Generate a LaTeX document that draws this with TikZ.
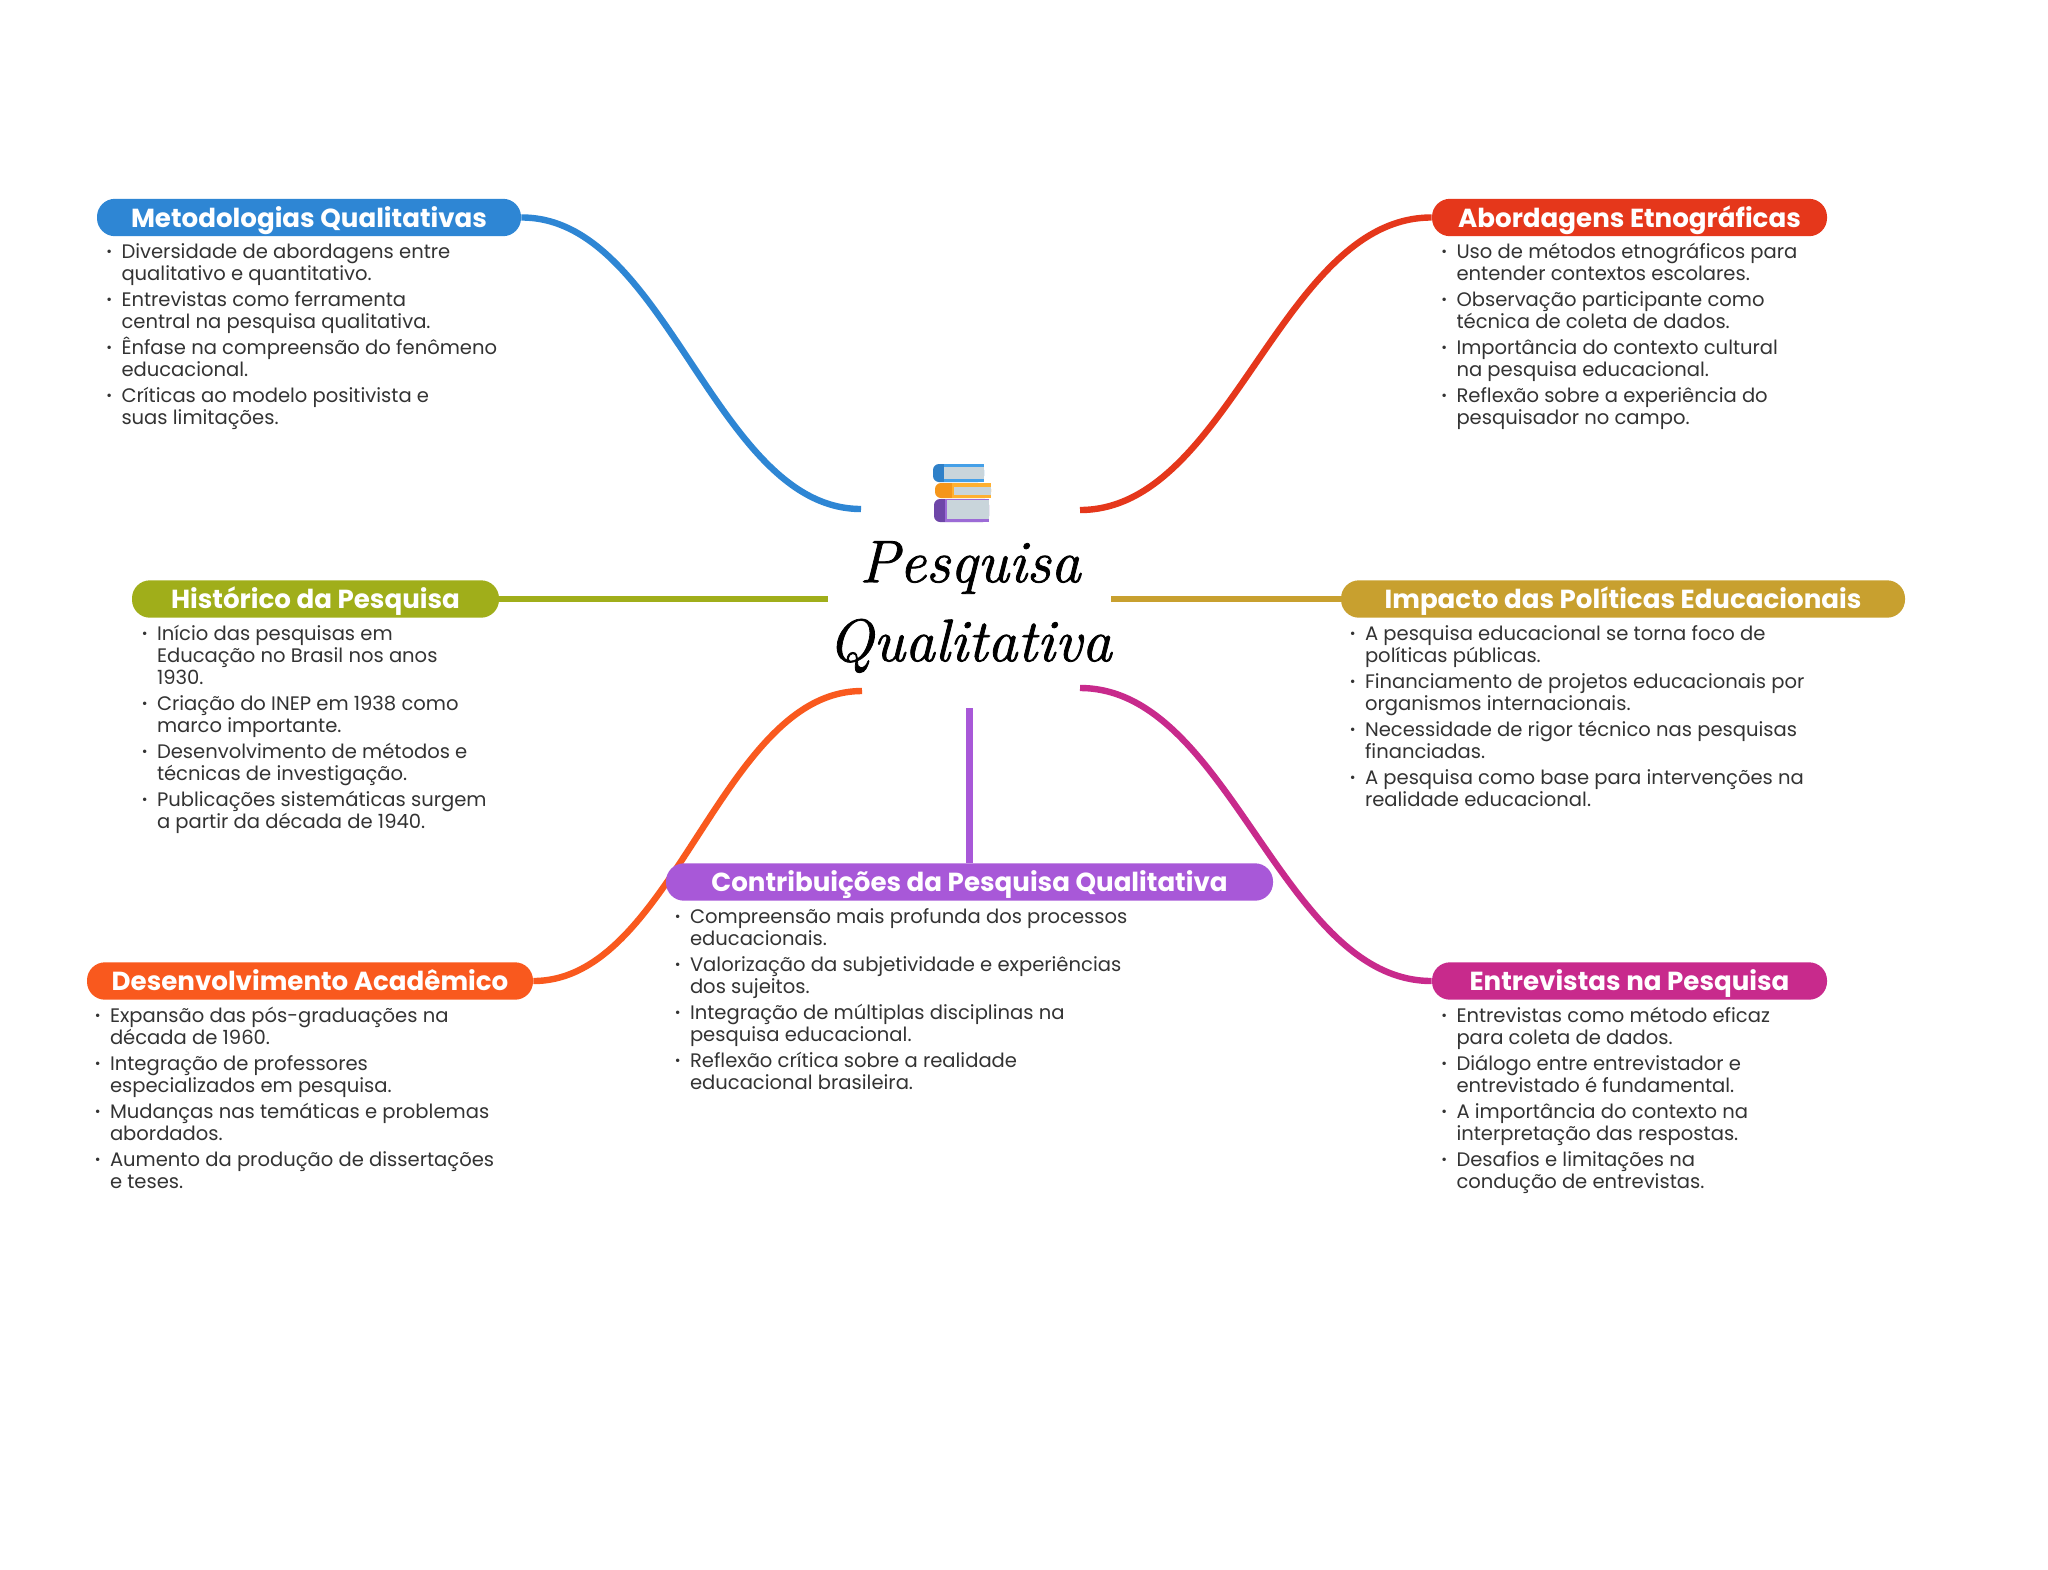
\documentclass[tikz,border=0pt]{standalone}
\usepackage{fontspec}
\setmainfont{Poppins}
\newfontfamily\titlefont[ItalicFeatures={FakeBold=1.3}]{Latin Modern Roman}
\definecolor{cblue}{HTML}{2E86D4}
\definecolor{cred}{HTML}{E5371B}
\definecolor{colive}{HTML}{A0AE1A}
\definecolor{cgold}{HTML}{C8A02F}
\definecolor{corange}{HTML}{F9591E}
\definecolor{cpurple}{HTML}{A858D8}
\definecolor{cmagenta}{HTML}{C82A8C}
\definecolor{ctext}{HTML}{333333}
\definecolor{cpage}{HTML}{C9D5DB}
\definecolor{bkblue}{HTML}{2F80C8}
\definecolor{bkblueb}{HTML}{45A0E8}
\definecolor{bkor}{HTML}{F5961A}
\definecolor{bkorb}{HTML}{FFB030}
\definecolor{bkpu}{HTML}{6E46A8}
\definecolor{bkpub}{HTML}{9C6BD6}
\newcommand\rbul{\hbox to 8.5pt{\hskip 0.9pt\raisebox{0.9pt}{\fontsize{7}{7}\selectfont\textbullet}\hss}}
\newcommand\rbox[1]{\fontsize{9.78}{11}\selectfont\color{ctext}%
  \vbox{\baselineskip=11pt\lineskiplimit=-10pt\parskip=0pt #1}}
\newcommand\rl[1]{\hbox{\hbox to 8.5pt{\hss}#1}}
\newcommand\ri[1]{\vskip 2pt\hbox{\rbul #1}}
\newcommand\rf[1]{\hbox{\vrule height 10pt width 0pt\rbul #1}}
\tikzset{
  x=0.5pt,y=-0.5pt,
  pill/.style={rounded corners=9pt,minimum height=18.7pt,inner sep=0pt,text=white,
    text height=10.3pt,text depth=0.8pt,font=\fontsize{13.06}{14}\selectfont\bfseries},
  body/.style={anchor=north west,inner sep=0pt,outer sep=0pt},
  conn/.style={line width=3.2pt,line cap=butt},
  titletext/.style={align=center,inner sep=0pt,font=\titlefont\itshape\fontsize{30}{39.5}\selectfont}
}
\begin{document}
\begin{tikzpicture}
\useasboundingbox (0,0) rectangle (2048,1569);
\fill[white] (0,0) rectangle (2048,1569);

% centre title
\node[titletext] (title) at (970,607) {Pesquisa\\Qualitativa};

% books icon
\fill[bkblue,rounded corners=3pt] (933,464) rectangle (984,482);
\fill[bkblueb] (944,464) rectangle (984,482);
\fill[cpage] (944,467) rectangle (984,479);
\fill[bkor,rounded corners=3pt] (935,483) rectangle (991,498);
\fill[bkorb] (952,483) rectangle (991,498);
\fill[cpage] (954,487) rectangle (991,495);
\fill[bkpu,rounded corners=3pt] (934,499) rectangle (989,522);
\fill[bkpub] (945,499) rectangle (989,522);
\fill[cpage] (947,500) rectangle (989,519);

% pills
\node[pill,fill=cblue,minimum width=212pt] (m) at (309,217.5) {Metodologias Qualitativas};
\node[pill,fill=cred,minimum width=197.5pt] (a) at (1629.5,217.5) {Abordagens Etnográficas};
\node[pill,fill=colive,minimum width=183.5pt] (h) at (315.5,599) {Histórico da Pesquisa};
\node[pill,fill=cgold,minimum width=282pt] (i) at (1623,599) {Impacto das Políticas Educacionais};
\node[pill,fill=corange,minimum width=223pt] (d) at (310,981) {Desenvolvimento Acadêmico};
\node[pill,fill=cmagenta,minimum width=197.5pt] (e) at (1629.5,981) {Entrevistas na Pesquisa};

% free ends
\coordinate (em) at (861,509);
\coordinate (ea) at (1080,510);
\coordinate (eh) at (828,599);
\coordinate (ei) at (1111,599);
\coordinate (ec) at (969.5,708);
\coordinate (ed) at (862,691);
\coordinate (ee) at (1080,688);

% connectors
\draw[conn,cblue] (m.east) .. controls (667,217) and (715,509) .. (em);
\draw[conn,cred] (a.west) .. controls (1281,217) and (1230,510) .. (ea);
\draw[conn,colive] (h.east) -- (eh);
\draw[conn,cgold] (i.west) -- (ei);
\draw[conn,corange] (d.east) .. controls (674,981) and (721,691) .. (ed);
\draw[conn,cmagenta] (e.west) .. controls (1281,981) and (1230,688) .. (ee);

% drawn after the orange connector, which passes behind it
\node[pill,fill=cpurple,minimum width=303.5pt] (c) at (969.5,882) {Contribuições da Pesquisa Qualitativa};
\draw[conn,cpurple] (c.north) -- (ec);

% bodies
\node[body] (mb) at (104.5,238.5) {\rbox{
\rf{Diversidade de abordagens entre}\rl{qualitativo e quantitativo.}
\ri{Entrevistas como ferramenta}\rl{central na pesquisa qualitativa.}
\ri{Ênfase na compreensão do fenômeno}\rl{educacional.}
\ri{Críticas ao modelo positivista e}\rl{suas limitações.}}};
\node[body] (ab) at (1439.5,238.5) {\rbox{
\rf{Uso de métodos etnográficos para}\rl{entender contextos escolares.}
\ri{Observação participante como}\rl{técnica de coleta de dados.}
\ri{Importância do contexto cultural}\rl{na pesquisa educacional.}
\ri{Reflexão sobre a experiência do}\rl{pesquisador no campo.}}};
\node[body] (hb) at (140,620.5) {\rbox{
\rf{Início das pesquisas em}\rl{Educação no Brasil nos anos}\rl{1930.}
\ri{Criação do INEP em 1938 como}\rl{marco importante.}
\ri{Desenvolvimento de métodos e}\rl{técnicas de investigação.}
\ri{Publicações sistemáticas surgem}\rl{a partir da década de 1940.}}};
\node[body] (ib) at (1348,620.5) {\rbox{
\rf{A pesquisa educacional se torna foco de}\rl{políticas públicas.}
\ri{Financiamento de projetos educacionais por}\rl{organismos internacionais.}
\ri{Necessidade de rigor técnico nas pesquisas}\rl{financiadas.}
\ri{A pesquisa como base para intervenções na}\rl{realidade educacional.}}};
\node[body] (cb) at (673,903.5) {\rbox{
\rf{Compreensão mais profunda dos processos}\rl{educacionais.}
\ri{Valorização da subjetividade e experiências}\rl{dos sujeitos.}
\ri{Integração de múltiplas disciplinas na}\rl{pesquisa educacional.}
\ri{Reflexão crítica sobre a realidade}\rl{educacional brasileira.}}};
\node[body] (db) at (93,1002.5) {\rbox{
\rf{Expansão das pós-graduações na}\rl{década de 1960.}
\ri{Integração de professores}\rl{especializados em pesquisa.}
\ri{Mudanças nas temáticas e problemas}\rl{abordados.}
\ri{Aumento da produção de dissertações}\rl{e teses.}}};
\node[body] (eb) at (1439.5,1002.5) {\rbox{
\rf{Entrevistas como método eficaz}\rl{para coleta de dados.}
\ri{Diálogo entre entrevistador e}\rl{entrevistado é fundamental.}
\ri{A importância do contexto na}\rl{interpretação das respostas.}
\ri{Desafios e limitações na}\rl{condução de entrevistas.}}};
\end{tikzpicture}
\end{document}
